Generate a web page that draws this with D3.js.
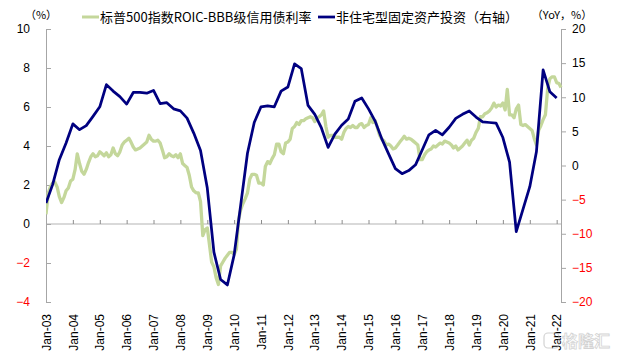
<!DOCTYPE html>
<html>
<head>
<meta charset="utf-8">
<script src="https://cdn.jsdelivr.net/npm/d3@7"></script>
<style>
  body { margin: 0; background: #fff; }
  svg { display: block; font-family: "Liberation Sans", Arial, sans-serif; }
  .cjk { font-family: "Noto Sans CJK SC", sans-serif; }
</style>
</head>
<body>
<div id="chart"></div>
<script>
// legend names and axis units
const seriesNames = ["标普500指数ROIC-BBB级信用债利率", "非住宅型固定资产投资（右轴）"];
const leftUnit = "（%）", rightUnit = "（YoY，%）";
const leftTicks = [-4, -2, 0, 2, 4, 6, 8, 10];
const rightTicks = [-20, -15, -10, -5, 0, 5, 10, 15, 20];

// S&P500 ROIC - BBB yield, monthly from Jan-03 (left axis)
const spreadStart = "2003-01";
const spread = [
  0.5, 1.6, 1.9, 2.1, 2.15, 1.9, 1.4, 1.1, 1.35, 1.7,
  1.85, 2.2, 2.3, 2.8, 3.6, 3.1, 2.7, 2.55, 2.8, 3.15,
  3.45, 3.6, 3.45, 3.5, 3.7, 3.6, 3.5, 3.65, 3.45, 3.55,
  3.9, 3.6, 3.5, 3.7, 4.05, 4.2, 4.3, 4.4, 4.2, 3.95,
  3.8, 3.85, 3.9, 4.0, 4.1, 4.2, 4.55, 4.35, 4.25, 4.25,
  4.3, 4.15, 3.8, 3.4, 3.45, 3.6, 3.5, 3.45, 3.55, 3.4,
  3.6, 3.1, 3.0, 2.9, 2.5, 1.9, 1.7, 1.6, 1.6, 1.15,
  -0.6, -0.3, -0.2, -1.1, -1.95, -2.2, -2.75, -3.1, -2.15, -1.95,
  -1.75, -1.6, -1.45, -1.45, -1.55, -1.3, 0.2, 0.75, 1.05, 1.3,
  1.6, 2.3, 2.55, 2.55, 2.5, 2.1, 2.1, 2.0, 2.95, 3.2,
  3.1, 3.35, 3.55, 4.1, 4.1, 3.7, 3.6, 4.15, 4.2, 4.35,
  4.9, 5.0, 5.2, 5.1, 5.3, 5.3, 5.4, 5.45, 5.5, 5.45,
  5.25, 5.45, 5.5, 5.6, 5.8, 5.0, 4.45, 4.55, 4.55, 4.45,
  4.45, 4.45, 4.35, 4.7, 4.9, 5.0, 4.95, 5.05, 4.95, 4.95,
  5.1, 5.15, 4.95, 5.05, 5.1, 5.45, 5.2, 5.3, 4.95, 4.55,
  4.35, 4.25, 4.05, 4.1, 4.0, 3.85, 3.9, 4.05, 4.2, 4.35,
  4.5, 4.35, 4.4, 4.35, 4.25, 4.15, 4.05, 3.3, 3.3, 3.55,
  3.7, 3.8, 3.85, 4.0, 3.95, 4.05, 4.15, 4.1, 4.25, 4.2,
  4.15, 4.05, 3.9, 4.0, 3.8, 3.9, 4.0, 4.15, 4.3, 4.05,
  4.3, 4.4, 4.7, 4.9, 5.5, 5.5, 5.65, 5.7, 5.8, 5.95,
  6.2, 6.0, 6.1, 6.05, 6.2, 5.85, 6.9, 5.6, 5.6, 5.45,
  5.9, 6.1, 5.1, 5.05, 5.1, 5.0, 4.9, 4.8, 4.4, 4.05,
  4.8, 5.05, 5.35, 5.6, 6.95, 7.45, 7.55, 7.55, 7.25, 7.2, 7.0
];

// non-residential fixed investment YoY, quarterly from Jan-03 (right axis)
const capexStart = "2003-01";
const capex = [
  -5.5,
  -2.8, 0.85, 3.3, 6.1,
  5.25, 5.85, 7.2, 8.6,
  11.85, 10.9, 10.1, 9.0,
  10.7, 10.7, 10.6, 11.0,
  9.05, 9.2, 8.3, 8.0,
  6.95, 4.75, 2.2, -3.3,
  -12.7, -16.7, -17.5, -13.1,
  -5.7, 1.8, 6.3, 8.6,
  8.75, 8.6, 10.9, 11.5,
  14.9, 14.2, 8.8, 7.5,
  5.5, 2.65, 4.6, 5.9,
  6.8, 9.4, 9.9, 8.3,
  6.5, 3.9, 1.7, -0.45,
  -1.2, -0.75, 0.1, 2.3,
  4.5, 5.15, 4.5, 5.6,
  6.9, 7.5, 8.0, 7.1,
  6.4, 6.3, 6.2, 4.1,
  0.5, -9.7, -6.4, -3.1,
  2.0, 14.0, 10.8, 9.9
];

function makeChart() {
    const W = 619, H = 353;
    const left = 46, right = 561, top = 29, bottom = 302;
    const parse = d3.timeParse("%Y-%m");

    const spreadData = spread.map((v, i) => ({ date: d3.timeMonth.offset(parse(spreadStart), i), value: v }));
    const capexData = capex.map((v, i) => ({ date: d3.timeMonth.offset(parse(capexStart), 3 * i), value: v }));

    const x = d3.scaleTime()
        .domain([new Date(2003, 0, 1), new Date(2022, 2, 1)])
        .range([left, right]);
    const yL = d3.scaleLinear().domain([-4, 10]).range([bottom, top]);
    const yR = d3.scaleLinear().domain([-20, 20]).range([bottom, top]);

    const svg = d3.select("#chart").append("svg")
        .attr("width", W)
        .attr("height", H);

    svg.append("clipPath").attr("id", "plot-clip")
      .append("rect")
        .attr("x", left).attr("y", 0)
        .attr("width", W - left).attr("height", H);

    // zero line of left axis
    svg.append("line")
        .attr("x1", left).attr("x2", right)
        .attr("y1", yL(0)).attr("y2", yL(0))
        .attr("stroke", "#d9d9d9")
        .attr("stroke-width", 2);

    // year ticks sitting on the zero line
    svg.append("g")
        .attr("transform", `translate(0,${yL(0)})`)
        .call(d3.axisBottom(x).ticks(d3.timeYear.every(1)).tickSizeInner(-4).tickSizeOuter(0).tickFormat(""))
        .call(g => g.select(".domain").remove())
        .call(g => g.selectAll(".tick line").attr("stroke", "#8c8c8c"));

    // rotated year labels below the plot
    svg.append("g")
        .attr("transform", "translate(0,314)")
        .call(d3.axisBottom(x).ticks(d3.timeYear.every(1)).tickSize(0).tickFormat(d3.timeFormat("Jan-%y")))
        .call(g => g.select(".domain").remove())
        .call(g => g.selectAll(".tick text")
            .attr("transform", "rotate(-90)")
            .attr("text-anchor", "end")
            .attr("x", 0).attr("y", 0)
            .attr("dy", "0.35em")
            .attr("font-size", 12)
            .attr("font-family", "Liberation Sans, Arial, sans-serif")
            .attr("fill", "#000"));

    const formatY = g => g
        .call(g => g.select(".domain").attr("stroke", "#a6a6a6"))
        .call(g => g.selectAll(".tick line").attr("stroke", "#a6a6a6"))
        .call(g => g.selectAll(".tick text")
            .attr("font-size", 12)
            .attr("font-family", "Liberation Sans, Arial, sans-serif")
            .attr("fill", d => d < 0 ? "#ff0000" : "#000"));

    // left axis, ticks pointing inward
    svg.append("g")
        .attr("transform", `translate(${left},0)`)
        .call(d3.axisLeft(yL).tickValues(leftTicks).tickSizeInner(-5).tickSizeOuter(0).tickPadding(16))
        .call(formatY);

    // right axis
    svg.append("g")
        .attr("transform", `translate(${right},0)`)
        .call(d3.axisRight(yR).tickValues(rightTicks).tickSizeInner(5).tickSizeOuter(0).tickPadding(6))
        .call(formatY);

    const lineL = d3.line().x(d => x(d.date)).y(d => yL(d.value));
    const lineR = d3.line().x(d => x(d.date)).y(d => yR(d.value));

    svg.append("path")
        .datum(spreadData)
        .attr("clip-path", "url(#plot-clip)")
        .attr("fill", "none")
        .attr("stroke", "#c4d79b")
        .attr("stroke-width", 3.3)
        .attr("stroke-linejoin", "round")
        .attr("d", lineL);

    svg.append("path")
        .datum(capexData)
        .attr("clip-path", "url(#plot-clip)")
        .attr("fill", "none")
        .attr("stroke", "#000080")
        .attr("stroke-width", 2.75)
        .attr("stroke-linejoin", "round")
        .attr("d", lineR);

    // unit labels
    svg.append("text").attr("class", "cjk")
        .attr("x", 41).attr("y", 15).attr("dy", "0.35em")
        .attr("text-anchor", "middle").attr("font-size", 11)
        .text(leftUnit);
    svg.append("text").attr("class", "cjk")
        .attr("x", 562).attr("y", 15).attr("dy", "0.35em")
        .attr("text-anchor", "middle").attr("font-size", 11)
        .text(rightUnit);

    // legend
    const legend = [
        { name: seriesNames[0], color: "#c4d79b", x: 82, w: 3 },
        { name: seriesNames[1], color: "#000080", x: 318, w: 2.75 }
    ];
    const lg = svg.append("g").selectAll("g").data(legend).join("g")
        .attr("transform", d => `translate(${d.x},17)`);
    lg.append("line")
        .attr("x1", 0).attr("x2", 17)
        .attr("stroke", d => d.color)
        .attr("stroke-width", d => d.w);
    lg.append("text").attr("class", "cjk")
        .attr("x", 18).attr("dy", "0.35em")
        .attr("font-size", 13)
        .attr("fill", "#000")
        .text(d => d.name);

    // watermark
    const wm = svg.append("g").attr("opacity", 0.55);
    wm.append("rect")
        .attr("x", 544).attr("y", 333).attr("width", 15).attr("height", 15).attr("rx", 4)
        .attr("fill", "none").attr("stroke", "#b0b0b0").attr("stroke-width", 1.2);
    wm.append("text").attr("class", "cjk")
        .attr("x", 562).attr("y", 341).attr("dy", "0.35em")
        .attr("font-size", 16).attr("font-weight", "bold")
        .attr("fill", "#fff").attr("stroke", "#b0b0b0").attr("stroke-width", 0.8)
        .text("格隆汇");
}

makeChart();
</script>
</body>
</html>
